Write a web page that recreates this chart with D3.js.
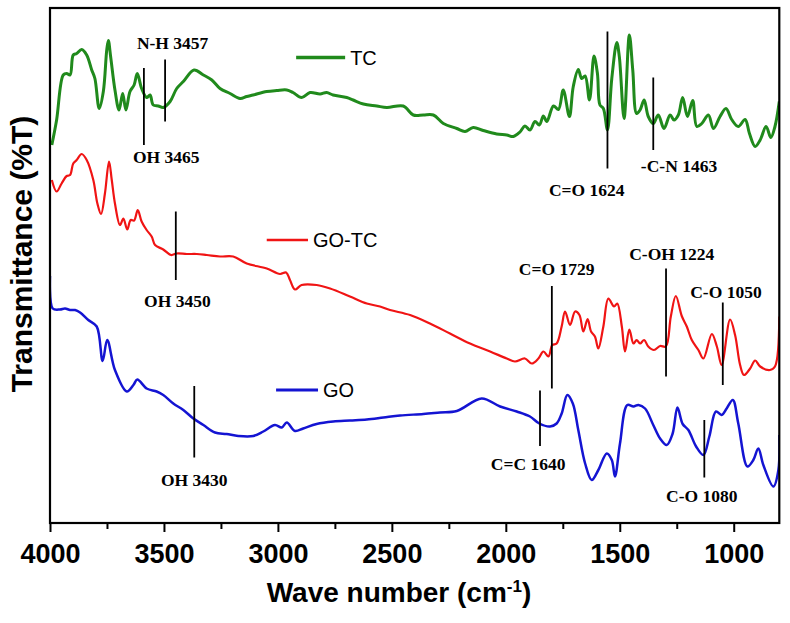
<!DOCTYPE html>
<html>
<head>
<meta charset="utf-8">
<script src="https://cdn.jsdelivr.net/npm/d3@7"></script>
<style>
  body { margin: 0; background: #fff; }
</style>
</head>
<body>
<div id="chart"></div>
<script>

// wave number (cm-1), transmittance (arbitrary, offset per sample)
var tcSpectrum = [
  [3992,75.6],[3971,80.6],[3942,89.6],[3927,89.9],[3912,89.6],[3898,93.6],[3883,93.9],[3861,94.7],
  [3839,93.6],[3817,90.6],[3803,88.9],[3784,82.9],[3766,86.3],[3751,94.6],[3744,96.5],[3734,93.3],
  [3715,86.6],[3697,82.6],[3681,85.9],[3667,82.6],[3649,86.3],[3631,87.6],[3617,89.9],[3598,86.9],
  [3576,85.1],[3561,85.6],[3547,83.6],[3525,83.4],[3503,83.1],[3473,84.3],[3444,86.9],[3415,88.3],
  [3368,90.6],[3327,89.6],[3290,88.6],[3254,86.9],[3210,85.9],[3166,84.9],[3137,85.3],[3109,85.6],
  [3049,86.3],[3005,86.5],[2961,86.6],[2934,86.1],[2896,85.1],[2859,86.1],[2815,85.8],[2786,86.1],
  [2758,85.6],[2698,85.1],[2670,84.6],[2625,83.8],[2566,83.4],[2522,83.1],[2450,83.4],[2406,81.6],
  [2362,81.6],[2318,81.6],[2274,79.9],[2215,78.9],[2179,78.3],[2143,79.1],[2099,78.5],[2040,77.8],
  [1996,77.6],[1967,77.3],[1938,78.2],[1916,79.4],[1894,78.6],[1872,80.3],[1853,79.6],[1835,81.4],
  [1820,80.3],[1791,83.4],[1769,82.7],[1748,86.6],[1721,81.3],[1704,87.3],[1682,90.7],[1667,88.9],
  [1652,89.4],[1633,84.6],[1613,93.4],[1598,89.9],[1587,83.6],[1572,82.9],[1554,78.6],[1535,88.9],
  [1513,96.1],[1502,93.3],[1481,80.9],[1458,97.6],[1443,90.6],[1426,81.9],[1411,82.6],[1393,84.6],
  [1375,81.3],[1353,79.9],[1331,81.6],[1306,78.9],[1279,81.6],[1262,80.6],[1243,81.6],[1224,85.1],
  [1203,81.3],[1180,84.5],[1162,79.3],[1140,79.9],[1111,81.6],[1089,78.9],[1060,81.3],[1034,82.9],
  [1009,80.7],[980,79.3],[950,80.7],[931,77.9],[906,75.3],[884,76.6],[858,79.3],[837,77.1],
  [819,79.3],[800,84.3]
];

var goTcSpectrum = [
  [3992,68.6],[3971,66.3],[3949,67.9],[3927,69.4],[3912,69.6],[3898,71.9],[3883,72.6],[3861,73.8],
  [3839,72.6],[3810,68.6],[3792,63.9],[3776,61.8],[3759,65.9],[3741,72.3],[3729,68.6],[3715,63.9],
  [3693,59.6],[3678,60.9],[3661,58.7],[3646,60.6],[3631,60.5],[3615,62.6],[3598,60.3],[3576,58.6],
  [3554,57.3],[3539,55.6],[3503,54.7],[3469,53.6],[3444,53.9],[3400,53.8],[3356,53.8],[3312,53.6],
  [3254,53.3],[3196,53.3],[3137,51.9],[3049,50.9],[2991,49.8],[2964,50.1],[2947,48.6],[2925,46.7],
  [2896,47.6],[2830,47.6],[2771,46.9],[2684,45.3],[2610,43.9],[2552,43.3],[2508,42.6],[2420,41.6],
  [2333,39.9],[2245,37.9],[2157,35.9],[2069,34.3],[1996,32.9],[1960,32.3],[1916,32.9],[1886,31.9],
  [1857,32.9],[1835,34.3],[1813,33.3],[1796,35.6],[1777,35.9],[1755,39.3],[1740,42.3],[1718,39.6],
  [1696,42.3],[1677,41.6],[1660,38.3],[1641,40.8],[1626,38.3],[1609,37.3],[1594,34.9],[1572,39.3],
  [1550,44.9],[1525,43.3],[1511,43.9],[1491,39.3],[1477,34.3],[1458,38.7],[1440,35.9],[1426,36.6],
  [1411,35.9],[1393,36.6],[1375,35.3],[1350,34.6],[1323,35.4],[1298,35.3],[1276,41.3],[1254,45.4],
  [1228,41.4],[1206,39.3],[1184,36.6],[1155,34.6],[1133,32.9],[1096,37.8],[1074,35.3],[1053,31.6],
  [1016,40.7],[994,37.6],[972,31.6],[955,29.6],[928,30.9],[906,32.5],[884,31.3],[841,30.6],
  [819,31.3],[800,41.3]
];

var goSpectrum = [
  [4000,49.4],[3988,42.9],[3956,42.7],[3934,42.9],[3912,42.6],[3890,42.6],[3868,42.1],[3832,40.6],
  [3795,39.3],[3769,32.4],[3749,36.6],[3715,30.6],[3663,26.3],[3634,27.6],[3617,28.7],[3576,26.9],
  [3532,26.3],[3503,25.6],[3459,23.9],[3415,22.6],[3371,20.9],[3327,19.6],[3276,18.1],[3225,17.8],
  [3174,17.4],[3108,17.4],[3064,18.3],[3013,19.6],[2983,19.1],[2961,20.1],[2925,18.4],[2889,18.9],
  [2830,19.8],[2757,20.3],[2684,20.5],[2610,20.7],[2537,21.1],[2464,21.5],[2362,21.8],[2289,22.1],
  [2215,22.4],[2106,24.9],[2025,23.3],[1952,22.3],[1894,21.3],[1853,19.9],[1806,19.3],[1777,19.9],
  [1755,21.9],[1730,25.6],[1706,23.9],[1682,18.6],[1652,11.9],[1623,8.6],[1594,10.6],[1557,13.9],
  [1535,12.6],[1521,9.3],[1499,15.9],[1467,23.6],[1440,23.3],[1418,23.6],[1389,22.9],[1353,19.6],
  [1323,16.9],[1294,15.6],[1268,17.9],[1247,23.1],[1224,19.8],[1199,18.6],[1165,15.3],[1133,13.6],
  [1107,17.3],[1078,22.3],[1053,21.6],[1031,22.9],[1004,24.6],[980,19.9],[940,11.3],[914,12.6],
  [892,14.9],[870,11.6],[826,7.3],[804,10.6],[800,17.6]
];

var xTicks = [4000, 3500, 3000, 2500, 2000, 1500, 1000];
var xMinorTicks = [3750, 3250, 2750, 2250, 1750, 1250];

var seriesNames = ["TC", "GO-TC", "GO"];
var seriesColors = ["#208a1c", "#f01414", "#1414d2"];

// legend sample line: from wave, to wave, level
var legendLines = [[2920, 2705, 93.1], [3049, 2868, 56.6], [3008, 2824, 26.6]];

// band marks: label, wave of bar, bar top, bar bottom, label centre wave, label baseline
var bandLabels = ["OH 3465", "N-H 3457", "OH 3450", "OH 3430", "C=O 1624", "-C-N 1463",
                  "C=O 1729", "C-OH 1224", "C-O 1050", "C=C 1640", "C-O 1080"];
var bandBars = [[3588, 91.0, 75.6], [3495, 92.7, 80.3], [3448, 62.3, 48.6], [3367, 27.4, 13.1],
                [1554, 98.3, 70.9], [1353, 89.1, 74.6], [1798, 47.4, 26.9], [1297, 50.9, 29.3],
                [1048, 44.1, 27.6], [1850, 26.5, 15.4], [1129, 20.6, 9.1]];
var bandText = [[3490, 72.0], [3462, 94.8], [3441, 43.2], [3367, 7.4], [1645, 65.4], [1240, 70.2],
                [1777, 49.6], [1272, 52.6], [1034, 45.0], [1902, 10.6], [1140, 4.2]];

var width = 790, height = 623;
var margin = {top: 8, right: 10.7, bottom: 100, left: 50};

var svg = d3.select("#chart").append("svg")
  .attr("width", width)
  .attr("height", height);

var x = d3.scaleLinear()
  .domain([4000, 800])
  .range([margin.left, width - margin.right]);

var y = d3.scaleLinear()
  .domain([0, 103])
  .range([height - margin.bottom, margin.top]);

var line = d3.line()
  .x(function(d) { return x(d[0]); })
  .y(function(d) { return y(d[1]); })
  .curve(d3.curveCatmullRom.alpha(0.5));

svg.append("defs").append("clipPath").attr("id", "clip")
  .append("rect")
  .attr("x", x(4000)).attr("y", y(103))
  .attr("width", x(800) - x(4000)).attr("height", y(0) - y(103));

var spectra = [tcSpectrum, goTcSpectrum, goSpectrum];
var widths = [3, 2.2, 2.5];

svg.append("g").attr("clip-path", "url(#clip)")
  .selectAll("path")
  .data(spectra)
  .enter().append("path")
    .attr("d", line)
    .attr("fill", "none")
    .attr("stroke", function(d, i) { return seriesColors[i]; })
    .attr("stroke-width", function(d, i) { return widths[i]; })
    .attr("stroke-linejoin", "round");

// legend
var legend = svg.append("g");
legendLines.forEach(function(l, i) {
  legend.append("line")
    .attr("x1", x(l[0])).attr("x2", x(l[1]))
    .attr("y1", y(l[2])).attr("y2", y(l[2]))
    .attr("stroke", seriesColors[i])
    .attr("stroke-width", widths[i] + 0.5);
  legend.append("text")
    .attr("x", x(l[1]) + 5)
    .attr("y", y(l[2]))
    .attr("dy", "0.36em")
    .style("font-family", "'Liberation Sans', Arial, sans-serif")
    .style("font-size", "20px")
    .text(seriesNames[i]);
});

// band marks
var bands = svg.append("g");
bandBars.forEach(function(b, i) {
  bands.append("line")
    .attr("x1", x(b[0])).attr("x2", x(b[0]))
    .attr("y1", y(b[1])).attr("y2", y(b[2]))
    .attr("stroke", "#000")
    .attr("stroke-width", 1.8);
  bands.append("text")
    .attr("x", x(bandText[i][0]))
    .attr("y", y(bandText[i][1]))
    .attr("text-anchor", "middle")
    .style("font-family", "'Liberation Serif', 'Times New Roman', serif")
    .style("font-weight", "bold")
    .style("font-size", "17.5px")
    .text(bandLabels[i]);
});

// frame
svg.append("rect")
  .attr("x", x(4000)).attr("y", y(103))
  .attr("width", x(800) - x(4000))
  .attr("height", y(0) - y(103))
  .attr("fill", "none")
  .attr("stroke", "#000")
  .attr("stroke-width", 2.2);

var xAxis = svg.append("g")
  .attr("transform", "translate(0," + y(0) + ")")
  .call(d3.axisBottom(x).tickValues(xTicks).tickSize(9).tickPadding(12).tickFormat(d3.format("d")));

xAxis.select(".domain").remove();
xAxis.selectAll(".tick line").attr("stroke-width", 2);
xAxis.selectAll("text")
  .style("font-family", "'Liberation Sans', Arial, sans-serif")
  .style("font-weight", "bold")
  .style("font-size", "27px")
  .attr("fill", "#000");

var xMinor = svg.append("g")
  .attr("transform", "translate(0," + y(0) + ")")
  .call(d3.axisBottom(x).tickValues(xMinorTicks).tickSize(6).tickFormat(""));
xMinor.select(".domain").remove();
xMinor.selectAll(".tick line").attr("stroke-width", 2);

// axis titles
var xTitle = svg.append("text")
  .attr("x", 399)
  .attr("y", 602)
  .attr("text-anchor", "middle")
  .style("font-family", "'Liberation Sans', Arial, sans-serif")
  .style("font-weight", "bold")
  .style("font-size", "28px");
xTitle.append("tspan").text("Wave number (cm");
xTitle.append("tspan").attr("dy", "-10").style("font-size", "17px").text("-1");
xTitle.append("tspan").attr("dy", "10").text(")");

svg.append("text")
  .attr("transform", "translate(32,254) rotate(-90)")
  .attr("text-anchor", "middle")
  .style("font-family", "'Liberation Sans', Arial, sans-serif")
  .style("font-weight", "bold")
  .style("font-size", "30px")
  .text("Transmittance (%T)");

</script>
</body>
</html>
